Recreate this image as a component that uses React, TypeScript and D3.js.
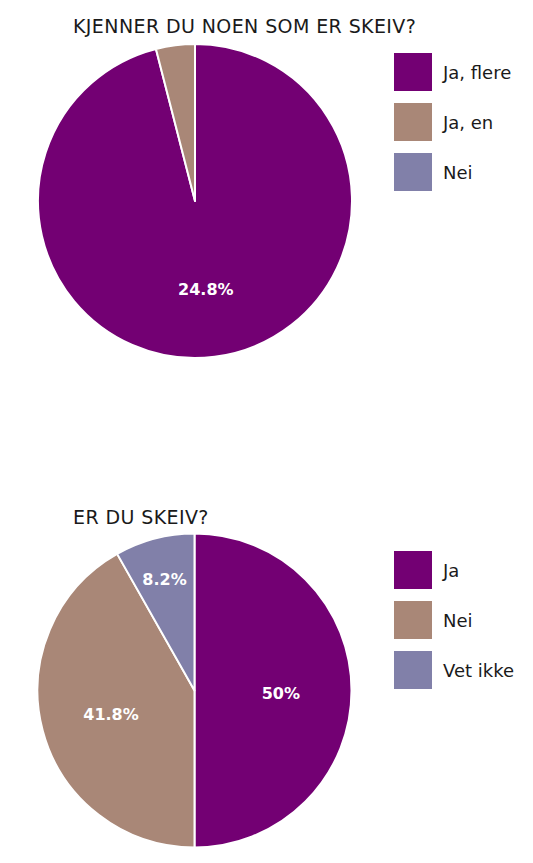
import React from 'react';
import * as d3 from 'd3';

// Diagram 1: Kjenner du noen som er skeiv?
const kjennerTitle = 'KJENNER DU NOEN SOM ER SKEIV?';
const kjennerCategories = ['Ja, flere', 'Ja, en', 'Nei'];
const kjennerValues = [96.0, 4.0, 0];
const kjennerLabels = ['24.8%', '', ''];

// Diagram 2: Er du skeiv?
const skeivTitle = 'ER DU SKEIV?';
const skeivCategories = ['Ja', 'Nei', 'Vet ikke'];
const skeivValues = [50, 41.8, 8.2];
const skeivLabels = ['50%', '41.8%', '8.2%'];

const colors = ['#730073', '#a98777', '#8180a9'];

const FONT = '"DejaVu Sans", sans-serif';

interface PieBlockProps {
    title: string;
    categories: string[];
    values: number[];
    labels: string[];
    cx: number;
    cy: number;
    titleY: number;
    legendY: number;
}

const PieBlock: React.FC<PieBlockProps> = ({title, categories, values, labels, cx, cy, titleY, legendY}) => {
    const radius = 157;
    const pie = d3.pie<number>().sort(null).value(d => d);
    const arcs = pie(values);
    const arc = d3.arc<d3.PieArcDatum<number>>().innerRadius(0).outerRadius(radius);
    // kleine Stykker får etiketten lenger ut
    const labelArc = (d: d3.PieArcDatum<number>) => {
        const share = (d.endAngle - d.startAngle) / (2 * Math.PI);
        const r = share < 0.1 ? radius * 0.75 : radius * 0.55;
        return d3.arc<d3.PieArcDatum<number>>().innerRadius(r).outerRadius(r).centroid(d);
    };

    // 38px Felder, 50px Abstand
    const legendScale = d3.scaleBand<string>()
        .domain(categories)
        .range([legendY, legendY + 138])
        .paddingInner(0.24);

    return (
        <g>
            <text x={73} y={titleY} fontFamily={FONT} fontSize={19} letterSpacing={0.4} fill="#1a1a1a">{title}</text>
            <g transform={`translate(${cx}, ${cy})`}>
                {arcs.map((d, i) => d.value > 0 && (
                    <path key={i} d={arc(d)!} fill={colors[i]} stroke="#fff" strokeWidth={2} strokeLinejoin="round"/>
                ))}
                {arcs.map((d, i) => {
                    if (!labels[i]) return null;
                    const [x, y] = labelArc(d);
                    return (
                        <text key={'l' + i} x={x} y={y} dy="0.5em" textAnchor="middle"
                              fontFamily={FONT} fontSize={16} fontWeight={600} fill="#fff">
                            {labels[i]}
                        </text>
                    );
                })}
            </g>
            {categories.map((c, i) => (
                <g key={c} transform={`translate(394, ${legendScale(c)})`}>
                    <rect width={38} height={legendScale.bandwidth()} fill={colors[i]}/>
                    <text x={49} y={26} fontFamily={FONT} fontSize={18} fill="#1a1a1a">{c}</text>
                </g>
            ))}
        </g>
    );
};

const App: React.FC = () => {
    return (
        <svg width={533} height={863} style={{position: 'absolute', left: 0, top: 0, background: '#fff'}}>
            <PieBlock title={kjennerTitle} categories={kjennerCategories} values={kjennerValues}
                      labels={kjennerLabels} cx={195} cy={201} titleY={33} legendY={53}/>
            <PieBlock title={skeivTitle} categories={skeivCategories} values={skeivValues}
                      labels={skeivLabels} cx={194.5} cy={690.5} titleY={524} legendY={551}/>
        </svg>
    );
};

export default App;
